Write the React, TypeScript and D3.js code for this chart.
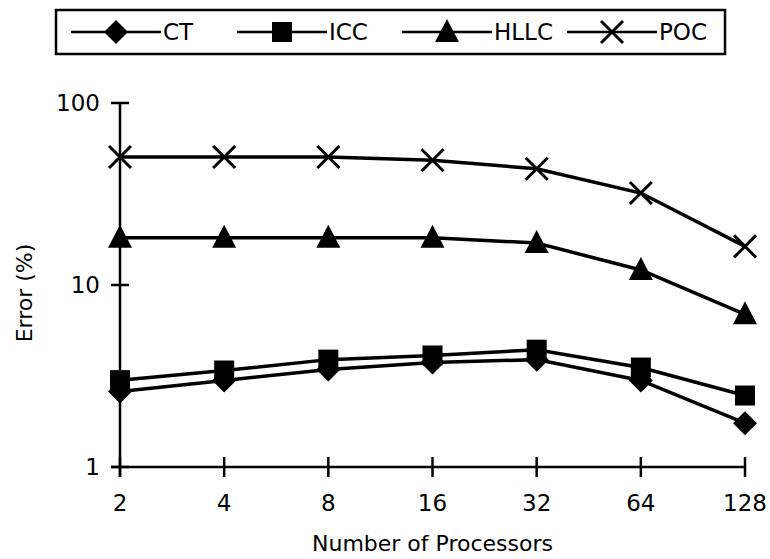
import { useEffect, useRef } from "react";
import * as d3 from "d3";

const processors = ["2", "4", "8", "16", "32", "64", "128"];
const ctValues = [2.6, 2.99, 3.43, 3.75, 3.89, 2.99, 1.74];
const iccValues = [3.0, 3.39, 3.89, 4.1, 4.41, 3.52, 2.47];
const hllcValues = [18.2, 18.2, 18.2, 18.2, 17.0, 12.1, 6.9];
const pocValues = [50.5, 50.5, 50.5, 48.5, 43.5, 32.0, 16.3];
const yTicks = [1, 10, 100];

type Marker = "diamond" | "square" | "triangle" | "cross";

const series: { name: string; values: number[]; marker: Marker }[] = [
  { name: "CT", values: ctValues, marker: "diamond" },
  { name: "ICC", values: iccValues, marker: "square" },
  { name: "HLLC", values: hllcValues, marker: "triangle" },
  { name: "POC", values: pocValues, marker: "cross" },
];

const FONT = "'DejaVu Sans', sans-serif";

function drawMarker(
  g: d3.Selection<SVGGElement, unknown, null, undefined>,
  kind: Marker,
  x: number,
  y: number,
) {
  if (kind === "diamond") {
    g.append("path")
      .attr("d", `M${x},${y - 12}L${x + 12},${y}L${x},${y + 12}L${x - 12},${y}Z`)
      .attr("fill", "#000");
  } else if (kind === "square") {
    g.append("rect")
      .attr("x", x - 10)
      .attr("y", y - 10)
      .attr("width", 20)
      .attr("height", 20)
      .attr("fill", "#000");
  } else if (kind === "triangle") {
    g.append("path")
      .attr("d", `M${x},${y - 13}L${x + 12},${y + 10}L${x - 12},${y + 10}Z`)
      .attr("fill", "#000");
  } else {
    g.append("path")
      .attr("d", `M${x - 11},${y - 11}L${x + 11},${y + 11}M${x - 11},${y + 11}L${x + 11},${y - 11}`)
      .attr("stroke", "#000")
      .attr("stroke-width", 3)
      .attr("fill", "none");
  }
}

export default function App() {
  const svgRef = useRef<SVGSVGElement>(null);

  useEffect(() => {
    if (!svgRef.current) return;
    const width = 770;
    const height = 559;
    const margin = { top: 103, right: 25, bottom: 92, left: 120 };
    const innerW = width - margin.left - margin.right;
    const innerH = height - margin.top - margin.bottom;

    const svg = d3.select(svgRef.current).attr("width", width).attr("height", height);
    svg.selectAll("*").remove();

    const g = svg.append("g").attr("transform", `translate(${margin.left},${margin.top})`);

    const x = d3.scalePoint<string>().domain(processors).range([0, innerW]).padding(0);
    const y = d3.scaleLog().domain([1, 100]).range([innerH, 0]);

    // y axis (ticks cross the line)
    g.append("line")
      .attr("x1", 0)
      .attr("x2", 0)
      .attr("y1", 0)
      .attr("y2", innerH + 10)
      .attr("stroke", "#000")
      .attr("stroke-width", 2.5);
    yTicks.forEach((t) => {
      g.append("line")
        .attr("x1", -9)
        .attr("x2", 9)
        .attr("y1", y(t))
        .attr("y2", y(t))
        .attr("stroke", "#000")
        .attr("stroke-width", 2.5);
      g.append("text")
        .attr("x", -20)
        .attr("y", y(t))
        .attr("dy", "0.36em")
        .attr("text-anchor", "end")
        .style("font-family", FONT)
        .style("font-size", "23px")
        .text(t);
    });

    // x axis
    g.append("line")
      .attr("x1", -9)
      .attr("x2", innerW)
      .attr("y1", innerH)
      .attr("y2", innerH)
      .attr("stroke", "#000")
      .attr("stroke-width", 2.5);
    processors.forEach((p) => {
      g.append("line")
        .attr("x1", x(p)!)
        .attr("x2", x(p)!)
        .attr("y1", innerH - 10)
        .attr("y2", innerH + 10)
        .attr("stroke", "#000")
        .attr("stroke-width", 2.5);
      g.append("text")
        .attr("x", x(p)!)
        .attr("y", innerH + 44)
        .attr("text-anchor", "middle")
        .style("font-family", FONT)
        .style("font-size", "23px")
        .text(p);
    });

    g.append("text")
      .attr("x", innerW / 2)
      .attr("y", innerH + 84)
      .attr("text-anchor", "middle")
      .style("font-family", FONT)
      .style("font-size", "22px")
      .text("Number of Processors");

    g.append("text")
      .attr("transform", `translate(-88,${innerH / 2 + 8}) rotate(-90)`)
      .attr("text-anchor", "middle")
      .style("font-family", FONT)
      .style("font-size", "22px")
      .text("Error (%)");

    // lines + markers
    const line = d3
      .line<number>()
      .x((_d, i) => x(processors[i])!)
      .y((d) => y(d));

    series.forEach((s) => {
      g.append("path")
        .attr("d", line(s.values))
        .attr("fill", "none")
        .attr("stroke", "#000")
        .attr("stroke-width", 3.5);
      s.values.forEach((v, i) => drawMarker(g, s.marker, x(processors[i])!, y(v)));
    });

    // legend
    const lg = svg.append("g");
    lg.append("rect")
      .attr("x", 56)
      .attr("y", 10)
      .attr("width", 669)
      .attr("height", 44)
      .attr("fill", "#fff")
      .attr("stroke", "#000")
      .attr("stroke-width", 2.5);
    const legendX = [71, 237, 402, 567];
    series.forEach((s, i) => {
      const lx = legendX[i];
      const cy = 32;
      lg.append("line")
        .attr("x1", lx)
        .attr("x2", lx + 90)
        .attr("y1", cy)
        .attr("y2", cy)
        .attr("stroke", "#000")
        .attr("stroke-width", 2.5);
      drawMarker(lg, s.marker, lx + 45, cy);
      lg.append("text")
        .attr("x", lx + 92)
        .attr("y", cy)
        .attr("dy", "0.36em")
        .style("font-family", FONT)
        .style("font-size", "23px")
        .text(s.name);
    });
  }, []);

  return (
    <div style={{ position: "absolute", left: 0, top: 0 }}>
      <svg ref={svgRef} role="img" aria-label="Error vs number of processors" />
    </div>
  );
}
